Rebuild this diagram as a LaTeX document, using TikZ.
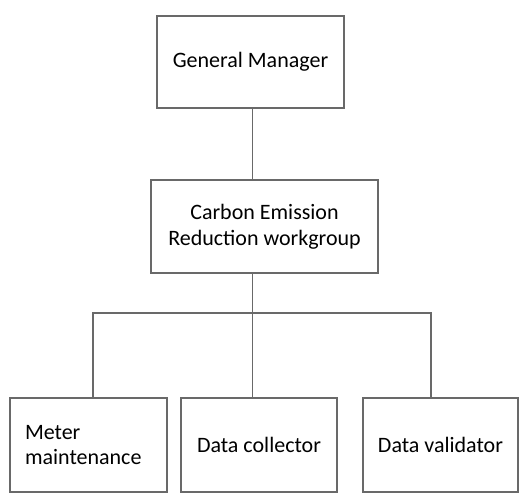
\documentclass[tikz,border=0pt]{standalone}
\usepackage{fontspec}
\setmainfont{Carlito}
\definecolor{linegray}{RGB}{105,105,105}
\tikzset{
  box/.style={draw=linegray, line width=1.7pt, fill=white, inner sep=0pt, align=center,
    font=\fontsize{22}{25.5}\selectfont, text=black},
  conn/.style={draw=linegray, line width=1.7pt}
}
\begin{document}
\begin{tikzpicture}[x=1pt,y=-1pt]
\useasboundingbox[fill=white] (0,0) rectangle (524,495);
\node[box, minimum width=187pt, minimum height=92pt] (gm) at (250.5,62) {General Manager};
\node[box, minimum width=227pt, minimum height=93pt] (cerw) at (264.5,226.5) {Carbon Emission\\Reduction workgroup};
\node[box, minimum height=94pt, text width=127pt, inner xsep=15pt, align=left] (mm) at (88.5,445) {Meter\\maintenance};
\node[box, minimum width=156pt, minimum height=94pt] (dc) at (259,445) {Data collector};
\node[box, minimum width=155pt, minimum height=94pt] (dv) at (440.5,445) {Data validator};
\coordinate (spine) at (252.5,313);
\coordinate (bl) at (93,313);
\coordinate (br) at (431,313);
\draw[conn] (gm.south -| spine) -- (cerw.north -| spine);
\draw[conn] (cerw.south -| spine) -- (spine) -- (spine |- dc.north);
\draw[conn] (bl |- mm.north) -- (bl) -- (br) -- (br |- dv.north);
\end{tikzpicture}
\end{document}
